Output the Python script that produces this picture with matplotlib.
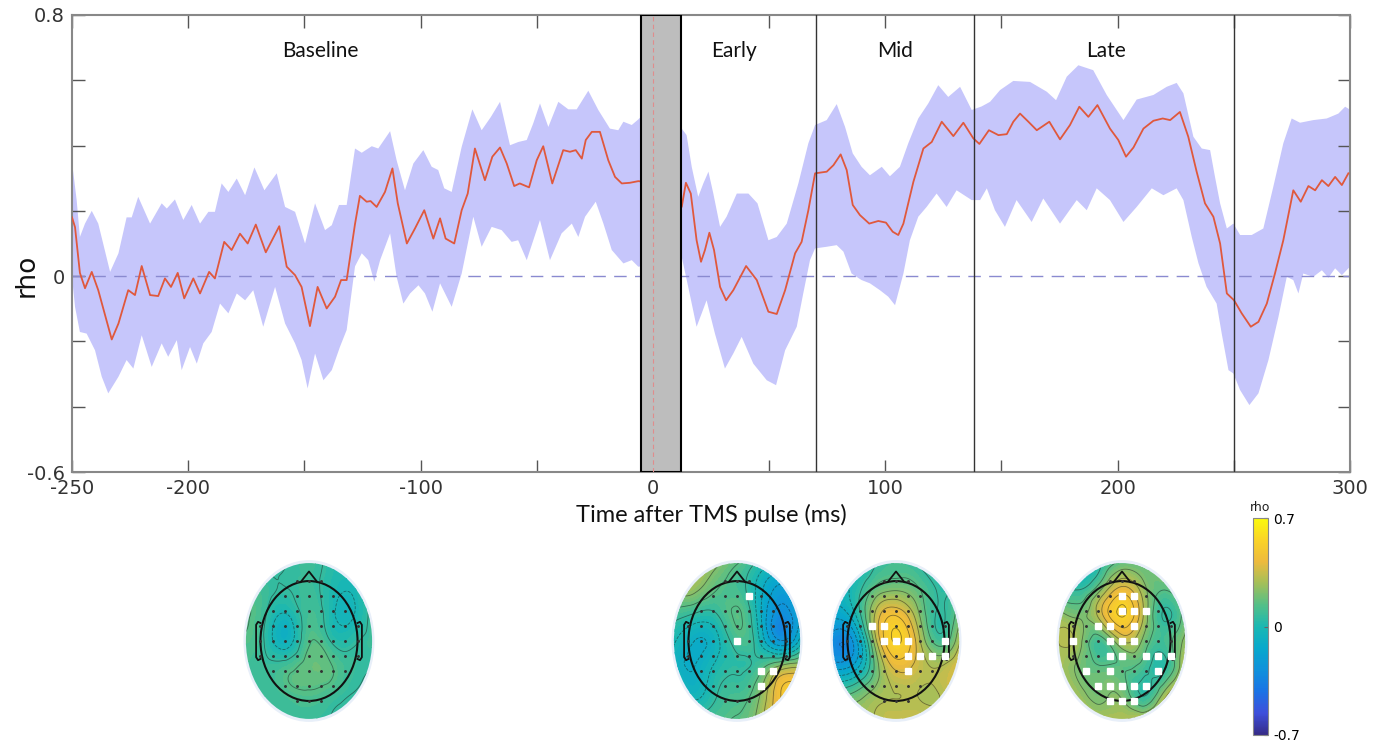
import numpy as np
import matplotlib
matplotlib.use('Agg')
import matplotlib.pyplot as plt
import matplotlib.tri as mtri
from matplotlib.colors import LinearSegmentedColormap, Normalize
from matplotlib.patches import Circle
from matplotlib.cm import ScalarMappable

# ---- time course data (ms, rho) ----
mean_t = [-250, -248.7, -246.6, -244.4, -241.5, -238.7, -232.9, -230, -225.8, -222.9, -220, -216.4,
          -212.9, -210, -207.4, -204.5, -201.7, -197.8, -194.9, -191, -188.5, -184.5, -181.3, -177.7,
          -174.4, -170.9, -166.6, -160.8, -157.6, -154, -151.2, -147.6, -144.3, -140.4, -136.8, -134.2,
          -131.8, -128.2, -126.1, -123.2, -121.5, -118.9, -115.3, -112.1, -109.8, -105.9, -102.4, -98.4,
          -94.5, -91.6, -89.2, -85.5, -82.3, -79.7, -76.6, -72.3, -69.1, -65.8, -62.9, -59.7, -57.3,
          -53.3, -50, -47.2, -43.3, -38.6, -35.7, -33.2, -30.6, -28.9, -26.3, -22.8, -19.2, -16.3,
          -13.4, -9.9, -6.3, -5,
          12.4, 14.2, 16.3, 18.8, 20.7, 22.4, 24.3, 26.3, 28.9, 31.5, 34.6, 40.1, 44.7, 49.7, 53.3,
          56.9, 61.2, 64, 66.9, 69.8, 74.8, 77.7, 80.8, 83.4, 86, 89.1, 93.1, 97, 100.3, 103.2, 105.6,
          107.8, 112.1, 116.4, 120, 124.3, 129.3, 133.6, 137.9, 140.5, 144.6, 148.7, 152.3, 155.1, 158,
          161.6, 165.2, 170.6, 175.2, 179.5, 183.5, 187.4, 191.3, 196.7, 200.3, 203.6, 206.8, 211.1,
          215.4, 219.4, 222.6, 226.8, 230.4, 234, 237.6, 241.2, 244.1, 247, 250.1, 253.4, 257.3, 260.6,
          264.2, 267.7, 271.3, 275.6, 278.8, 282.1, 285, 287.9, 290.7, 293.6, 296.5, 299.3]
mean_rho = [0.18, 0.15, 0.01, -0.037, 0.013, -0.043, -0.194, -0.145, -0.043, -0.058, 0.031, -0.058,
            -0.061, -0.007, -0.033, 0.01, -0.068, -0.007, -0.053, 0.013, -0.007, 0.105, 0.08, 0.13,
            0.1, 0.158, 0.073, 0.153, 0.029, 0.003, -0.033, -0.153, -0.033, -0.099, -0.063, -0.012,
            -0.012, 0.16, 0.246, 0.228, 0.23, 0.212, 0.258, 0.33, 0.223, 0.1, 0.146, 0.202,
            0.115, 0.177, 0.115, 0.1, 0.202, 0.253, 0.391, 0.294, 0.366, 0.394, 0.345, 0.276, 0.284,
            0.272, 0.355, 0.398, 0.284, 0.386, 0.381, 0.386, 0.36, 0.417, 0.442, 0.442, 0.355, 0.304,
            0.284, 0.286, 0.291, 0.29,
            0.212, 0.286, 0.253, 0.11, 0.044, 0.08, 0.133, 0.08, -0.033, -0.074, -0.043, 0.031, -0.012,
            -0.109, -0.116, -0.043, 0.07, 0.105, 0.202, 0.315, 0.32, 0.34, 0.373, 0.325, 0.218, 0.187,
            0.161, 0.169, 0.164, 0.136, 0.126, 0.161, 0.289, 0.391, 0.411, 0.473, 0.429, 0.47, 0.422,
            0.405, 0.447, 0.432, 0.435, 0.473, 0.498, 0.473, 0.447, 0.473, 0.419, 0.463, 0.519, 0.488,
            0.524, 0.452, 0.417, 0.366, 0.394, 0.452, 0.476, 0.483, 0.478, 0.503, 0.427, 0.32, 0.223,
            0.182, 0.1, -0.053, -0.074, -0.114, -0.155, -0.14, -0.084, 0.008, 0.11, 0.263, 0.228, 0.276,
            0.263, 0.294, 0.276, 0.304, 0.279, 0.315]

upper_t = [-250, -248, -246.6, -244.4, -241.5, -238.7, -233.6, -230, -226.5, -224.3, -221.5, -216.4,
           -211.4, -209.2, -205.7, -202.1, -198.5, -194.9, -191.3, -188.5, -185.6, -182.7, -179.1,
           -175.5, -171.5, -167.2, -161.9, -158.3, -154, -149.7, -145.4, -141.1, -138.2, -135.1,
           -131.8, -128.2, -125.3, -121, -118.2, -113.1, -110.3, -106.7, -103.1, -98.8, -95.2, -92.4,
           -89.8, -86.6, -82.3, -77.7, -73.7, -69.7, -65.8, -61.5, -57.9, -54.3, -51.5, -48.6, -45,
           -40.7, -36.4, -32.8, -27.8, -23.5, -18.5, -14.9, -12.7, -9.1, -6.3, -4.9,
           12.4, 14.5, 16.7, 19.5, 21.7, 23.9, 26, 28.9, 31.7, 36.1, 41.1, 45, 49.7, 53.3, 57.6, 62.6,
           66.9, 69.8, 74.8, 79.1, 82.7, 86, 89.8, 93.4, 98.5, 102, 106.3, 109.9, 114.2, 118.5, 122.8,
           127.1, 132.2, 137.2, 141.5, 145.1, 149.4, 155.1, 162.3, 169.5, 173.5, 178.1, 183.1, 189.5,
           195.3, 202.5, 208.2, 215.4, 221.1, 225.4, 228.3, 232.6, 236.2, 239.8, 241.9, 244.1, 247,
           249.8, 252.7, 257.7, 262.7, 267, 271.3, 274.9, 278.5, 284.2, 290, 295, 297.9, 300]
upper_rho = [0.35, 0.233, 0.12, 0.161, 0.2, 0.161, 0.013, 0.07, 0.18, 0.18, 0.243, 0.161,
             0.223, 0.207, 0.235, 0.172, 0.218, 0.161, 0.197, 0.197, 0.284, 0.258, 0.299,
             0.248, 0.333, 0.263, 0.315, 0.212, 0.197, 0.1, 0.223, 0.141, 0.156, 0.218,
             0.218, 0.391, 0.378, 0.398, 0.391, 0.444, 0.355, 0.263, 0.345, 0.386, 0.335, 0.325,
             0.269, 0.258, 0.396, 0.511, 0.447, 0.488, 0.534, 0.401, 0.411, 0.417, 0.468, 0.529, 0.457,
             0.534, 0.511, 0.511, 0.568, 0.509, 0.452, 0.447, 0.473, 0.463, 0.48, 0.49,
             0.452, 0.432, 0.335, 0.243, 0.284, 0.32, 0.253, 0.151, 0.182, 0.253, 0.253, 0.223, 0.11,
             0.12, 0.161, 0.284, 0.407, 0.463, 0.478, 0.527, 0.457, 0.376, 0.335, 0.309, 0.335, 0.306,
             0.335, 0.407, 0.483, 0.529, 0.585, 0.549, 0.58, 0.509, 0.52, 0.534, 0.57, 0.598, 0.595,
             0.565, 0.539, 0.611, 0.646, 0.631, 0.555, 0.478, 0.541, 0.555, 0.58, 0.592, 0.56, 0.427,
             0.391, 0.386, 0.304, 0.223, 0.146, 0.161, 0.126, 0.126, 0.146, 0.274, 0.407, 0.483, 0.47,
             0.478, 0.483, 0.498, 0.519, 0.51]

lower_t = [-250, -248.7, -246.6, -243.7, -240.1, -237.2, -234.4, -230, -226.5, -223.6, -220, -215.7,
           -211.4, -208.6, -204.9, -202.8, -199.2, -196.3, -193.5, -189.9, -186.3, -182.7, -179.1,
           -175.5, -172, -167.7, -162.6, -158.3, -154, -151.2, -148.6, -145.4, -141.8, -138.2, -134.7,
           -131.8, -128.2, -125.3, -122.5, -119.9, -117.4, -113.1, -110.3, -107.4, -104.5, -100.9,
           -98.1, -94.9, -91.6, -86.6, -82.3, -77.3, -73.7, -69.4, -65.1, -60.8, -58, -54.3, -48.6,
           -44.3, -39.3, -34.9, -32.1, -29.2, -24.6, -21.3, -17.7, -12.7, -9.1, -6.3, -4.9,
           12.4, 15.2, 18.8, 21, 23.1, 26.7, 31, 34.6, 38.2, 43.2, 49, 53, 56.9, 61.9, 64.7, 67.6, 69.8,
           74.8, 79.1, 82, 85.5, 89.8, 93.4, 97.7, 101.3, 104.2, 107.8, 110.6, 114.2, 117.8, 122.1,
           126.4, 130.7, 137.2, 140.8, 143.7, 147.2, 151.5, 156.5, 163, 168, 175.2, 182.4, 186.7, 191,
           196.7, 202.5, 208.2, 214.7, 219.7, 225.4, 228.3, 231.9, 234.8, 238.3, 242.6, 244.8, 247.7,
           249.8, 252.7, 256.7, 260.6, 264.9, 269.2, 272.8, 275.6, 277.8, 279.9, 284.2, 287.9, 290.7,
           293.6, 296.5, 300]
lower_rho = [-0.002, -0.094, -0.171, -0.176, -0.227, -0.308, -0.359, -0.308, -0.257, -0.283, -0.181,
             -0.278, -0.206, -0.247, -0.196, -0.288, -0.217, -0.268, -0.206, -0.171, -0.084, -0.114,
             -0.053, -0.074, -0.043, -0.155, -0.033, -0.145, -0.206, -0.257, -0.344, -0.237, -0.319,
             -0.288, -0.217, -0.165, 0.03, 0.07, 0.049, -0.017, 0.049, 0.131, -0.002, -0.084, -0.053,
             -0.028, -0.053, -0.109, -0.022, -0.094, 0.008, 0.182, 0.09, 0.151, 0.141, 0.105, 0.11,
             0.049, 0.172, 0.049, 0.131, 0.161, 0.12, 0.182, 0.228, 0.161, 0.08, 0.039, 0.049, 0.029,
             0.03,
             0.059, -0.033, -0.155, -0.114, -0.074, -0.176, -0.283, -0.237, -0.186, -0.268, -0.319,
             -0.334, -0.227, -0.155, -0.053, 0.049, 0.085, 0.09, 0.095, 0.075, 0.008, -0.012, -0.022,
             -0.043, -0.063, -0.089, 0.008, 0.11, 0.182, 0.212, 0.253, 0.212, 0.263, 0.233, 0.233,
             0.269, 0.202, 0.151, 0.233, 0.166, 0.238, 0.161, 0.233, 0.202, 0.269, 0.233, 0.166, 0.212,
             0.269, 0.248, 0.269, 0.233, 0.12, 0.039, -0.033, -0.084, -0.176, -0.288, -0.298, -0.349,
             -0.395, -0.359, -0.257, -0.125, -0.002, -0.012, -0.053, 0.008, -0.002, 0.018, -0.005,
             0.024, 0.003, 0.029]

pulse_window = [-5, 12]
window_edges = [70, 138, 250]
window_names = ['Baseline', 'Early', 'Mid', 'Late']
window_label_t = [-143, 35, 104, 195]

x_ticks = [-250, -200, -150, -100, -50, 0, 50, 100, 150, 200, 250, 300]
x_tick_labels = ['-250', '-200', '', '-100', '', '0', '', '100', '', '200', '', '300']
y_ticks = [-0.6, -0.4, -0.2, 0, 0.2, 0.4, 0.6, 0.8]
y_tick_labels = ['-0.6', '', '', '0', '', '', '', '0.8']

# ---- scalp maps: rho on a coarse 7x7 scalp grid (front row first, left column first) ----
topo_baseline = [[0.06, 0.05, 0.06, 0.08, 0.04, 0.02, 0.06],
                 [0.10, 0.08, 0.06, 0.08, 0.02, -0.01, 0.08],
                 [0.15, 0.06, -0.02, 0.10, 0.01, -0.03, 0.10],
                 [0.13, 0.04, -0.06, 0.13, 0.06, 0.04, 0.08],
                 [0.10, 0.08, 0.11, 0.17, 0.15, 0.08, 0.06],
                 [0.06, 0.08, 0.11, 0.13, 0.10, 0.06, 0.04],
                 [0.04, 0.06, 0.08, 0.08, 0.06, 0.04, 0.02]]
topo_early = [[0.30, 0.32, 0.25, 0.15, 0.05, 0.00, 0.05],
              [0.25, 0.25, 0.15, 0.10, -0.05, -0.20, -0.10],
              [0.10, 0.05, 0.05, 0.15, -0.05, -0.30, -0.15],
              [0.00, -0.10, -0.05, 0.10, 0.00, -0.25, -0.05],
              [-0.05, -0.10, 0.00, 0.05, 0.10, 0.25, 0.30],
              [0.05, -0.05, 0.05, 0.10, 0.20, 0.45, 0.50],
              [0.10, 0.10, 0.12, 0.15, 0.25, 0.45, 0.50]]
topo_mid = [[0.00, -0.05, 0.05, 0.10, 0.05, 0.00, 0.05],
            [-0.05, 0.00, 0.15, 0.20, 0.15, 0.05, 0.10],
            [-0.15, -0.05, 0.30, 0.45, 0.25, 0.05, 0.20],
            [-0.30, -0.25, 0.25, 0.55, 0.35, 0.10, 0.30],
            [-0.20, -0.15, 0.15, 0.40, 0.35, 0.30, 0.40],
            [0.10, 0.15, 0.25, 0.30, 0.30, 0.30, 0.40],
            [0.20, 0.25, 0.30, 0.35, 0.35, 0.35, 0.40]]
topo_late = [[-0.05, -0.05, 0.05, 0.15, 0.15, 0.20, 0.20],
             [0.05, 0.05, 0.20, 0.40, 0.25, 0.15, 0.20],
             [0.25, 0.20, 0.35, 0.55, 0.30, 0.05, 0.20],
             [0.30, 0.25, 0.10, 0.30, 0.20, 0.10, 0.25],
             [0.30, 0.20, 0.15, 0.15, 0.10, 0.05, 0.35],
             [0.30, 0.25, 0.20, 0.20, 0.05, 0.25, 0.45],
             [0.30, 0.30, 0.30, 0.30, 0.35, 0.45, 0.50]]

# significant channels as (row, col) on the 9x9 electrode grid
sig_baseline = []
sig_early = [(1, 5), (4, 4), (6, 6), (6, 7), (7, 6)]
sig_mid = [(3, 2), (3, 3), (4, 3), (4, 4), (4, 5), (5, 5), (5, 6), (5, 7), (6, 5), (4, 8), (5, 8)]
sig_late = [(1, 4), (1, 5), (2, 4), (2, 5), (2, 6), (3, 2), (3, 3), (3, 5), (4, 0), (4, 3), (4, 4),
            (4, 5), (5, 3), (5, 4), (5, 6), (5, 7), (5, 8), (6, 1), (6, 3), (6, 7), (7, 2), (7, 3),
            (7, 4), (7, 5), (7, 6), (8, 3), (8, 4), (8, 5)]

topo_centers_px = [309, 737, 896, 1122]

parula = LinearSegmentedColormap.from_list('parula_like', [
    (0.00, (0.21, 0.17, 0.53)), (0.10, (0.24, 0.31, 0.86)), (0.20, (0.10, 0.45, 0.90)),
    (0.30, (0.06, 0.57, 0.86)), (0.40, (0.03, 0.66, 0.80)), (0.50, (0.10, 0.72, 0.70)),
    (0.60, (0.33, 0.75, 0.53)), (0.70, (0.64, 0.75, 0.35)), (0.80, (0.93, 0.73, 0.24)),
    (0.90, (0.98, 0.83, 0.15)), (1.00, (0.98, 0.98, 0.05))])
norm = Normalize(-0.7, 0.7)

W, H = 1383, 742
fig = plt.figure(figsize=(W / 100, H / 100), dpi=100)

# ---- main time course ----
ax = fig.add_axes([72 / W, 1 - 472 / H, (1350 - 72) / W, (472 - 15) / H])
ax.fill(np.concatenate([upper_t, lower_t[::-1]]), np.concatenate([upper_rho, lower_rho[::-1]]),
        color='#c6c6fb', lw=0, zorder=1)
ax.axhline(0, color='#8a8ad0', lw=1, dashes=(9, 6), zorder=2)
ax.plot(mean_t, mean_rho, color='#e0583c', lw=1.3, zorder=3, solid_joinstyle='round')
ax.axvspan(pulse_window[0], pulse_window[1], facecolor='#bdbdbd', edgecolor='black', lw=1.5, zorder=4)
ax.axvline(0, color='#e08c8c', lw=0.8, dashes=(4, 3), zorder=5)
for t in window_edges:
    ax.axvline(t, color='#333333', lw=1, zorder=4)
for name, t in zip(window_names, window_label_t):
    ax.text(t, 0.69, name, ha='center', va='center', fontsize=15, family='Lato', color='#111111')

ax.set_xlim(-250, 300)
ax.set_ylim(-0.6, 0.8)
ax.set_xticks(x_ticks)
ax.set_xticklabels(x_tick_labels)
ax.set_yticks(y_ticks)
ax.set_yticklabels(y_tick_labels)
ax.tick_params(direction='in', length=9, width=1, color='#555555', top=True, right=True,
               labelsize=14, labelcolor='#333333')
ax.tick_params(axis='x', pad=5)
ax.tick_params(axis='y', pad=5)
for s in ax.spines.values():
    s.set_color('#888888')
    s.set_linewidth(1.5)
ax.set_ylabel('rho', fontsize=19, color='#111111')
ax.yaxis.set_label_coords(-0.025, 0.43)
ax.set_xlabel('Time after TMS pulse (ms)', fontsize=17, family='Lato', labelpad=4, color='#111111')

# ---- scalp maps ----
n = 7
g = np.linspace(-1.32, 1.32, n)
gx, gy = np.meshgrid(g, g[::-1])
idx = np.arange(n * n).reshape(n, n)
a, b, c, d = idx[:-1, :-1].ravel(), idx[:-1, 1:].ravel(), idx[1:, :-1].ravel(), idx[1:, 1:].ravel()
triangles = np.concatenate([np.stack([a, b, d], 1), np.stack([a, d, c], 1)])
tri = mtri.Triangulation(gx.ravel(), gy.ravel(), triangles)
refiner = mtri.UniformTriRefiner(tri)

e = np.arange(-1.0, 1.01, 0.25)
ex, ey = np.meshgrid(e, e[::-1])
inside = np.hypot(ex, ey) <= 1.06


def topomap(cx, grid, sig):
    tax = fig.add_axes([(cx - 66) / W, 1 - (641 + 81.5) / H, 132 / W, 163 / H])
    tax.set_xlim(-1.36, 1.36)
    tax.set_ylim(-1.36, 1.36)
    tax.axis('off')
    tax.add_patch(Circle((0, 0), 1.35, fc='#e8eff9', ec='none', zorder=0))
    tri_f, z_f = refiner.refine_field(np.array(grid, float).ravel(), subdiv=4)
    disc = Circle((0, 0), 1.3, transform=tax.transData)
    cf = tax.tricontourf(tri_f, z_f, levels=np.linspace(-0.7, 0.7, 57), cmap=parula, norm=norm,
                         extend='both', zorder=1)
    cf.set_clip_path(disc)
    cl = tax.tricontour(tri_f, z_f, levels=np.arange(-0.66, 0.7, 0.08), colors='#1a1a1a',
                        linewidths=0.6, alpha=0.5, zorder=2)
    cl.set_clip_path(disc)
    # head outline, nose, ears
    tax.add_patch(Circle((0, 0), 1.0, fill=False, ec='#111111', lw=1.5, zorder=3))
    tax.plot([-0.17, 0, 0.17], [0.985, 1.16, 0.985], color='#111111', lw=1.3, zorder=3)
    for sgn in (-1, 1):
        tax.plot(sgn * np.array([1.0, 1.05, 1.09, 1.09, 1.05, 1.0]),
                 [0.3, 0.32, 0.27, -0.27, -0.32, -0.3], color='#111111', lw=1.3, zorder=3)
    sig_mask = np.zeros_like(inside)
    for r, k in sig:
        sig_mask[r, k] = True
    dots = inside & ~sig_mask
    tax.plot(ex[dots], ey[dots], 'o', ms=1.1, color='#333333', zorder=4)
    tax.plot(ex[sig_mask], ey[sig_mask], 's', ms=4.5, color='white', mec='white', zorder=5)


for cx, grid, sig in zip(topo_centers_px, [topo_baseline, topo_early, topo_mid, topo_late],
                         [sig_baseline, sig_early, sig_mid, sig_late]):
    topomap(cx, grid, sig)

# ---- colorbar ----
cax = fig.add_axes([1253 / W, 1 - 735 / H, 15 / W, (735 - 518) / H])
cb = fig.colorbar(ScalarMappable(norm=norm, cmap=parula), cax=cax, ticks=[-0.7, 0, 0.7])
cb.ax.set_yticklabels(['-0.7', '0', '0.7'])
cb.ax.tick_params(direction='in', length=3, labelsize=10, color='#666666', pad=4)
cb.outline.set_edgecolor('#888888')
cb.outline.set_linewidth(0.8)
cax.text(0.5, 1.02, 'rho', transform=cax.transAxes, ha='center', va='bottom', fontsize=9,
         color='#222222')

fig.savefig('out.png', dpi=100)
